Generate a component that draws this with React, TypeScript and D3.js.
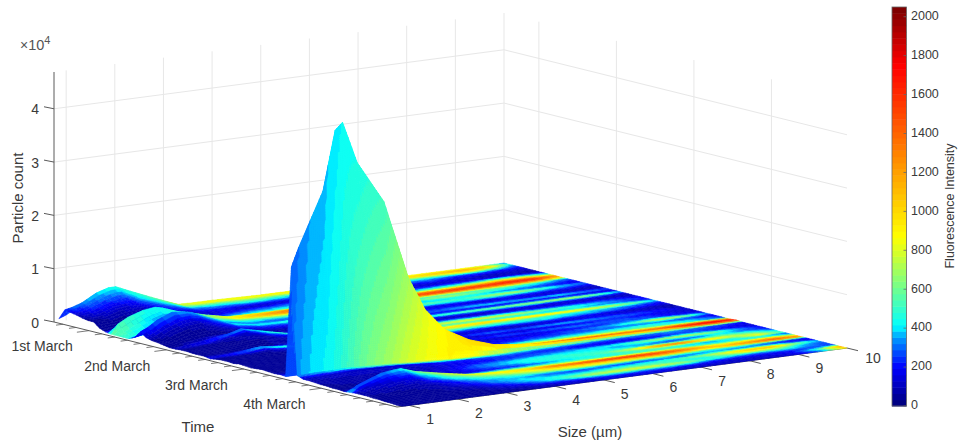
import React, { useMemo } from 'react';
import * as d3 from 'd3';

const WIDTH = 959;
const HEIGHT = 445;
const FONT = '"Liberation Sans", Arial, sans-serif';
const TEXT = '#3a3a3a';

// surface grid: size bins (um) and sampling times (days after 1st March)
const sizeBins = [0.85, 1, 1.2, 1.5, 1.75, 1.9, 2.2, 2.75, 3.25, 3.6, 4, 4.5, 5, 5.5, 6, 6.5, 7, 7.5, 8, 8.5, 9, 9.5, 10];
const timeRows = [
  -0.45, -0.375, -0.3, -0.225, -0.15, -0.075, 0, 0.075, 0.15, 0.225,
  0.3, 0.375, 0.45, 0.525, 0.6, 0.675, 0.75, 0.825, 0.9, 0.975,
  1.05, 1.125, 1.2, 1.275, 1.35, 1.425, 1.5, 1.575, 1.65, 1.725,
  1.8, 1.875, 1.95, 2.025, 2.1, 2.175, 2.25, 2.325, 2.4, 2.475,
  2.55, 2.625, 2.7, 2.775, 2.85, 2.925, 3, 3.075, 3.15, 3.225,
  3.3, 3.375, 3.45, 3.525, 3.6, 3.675, 3.75, 3.825, 3.9, 3.975,
];

// particle count (x10^4) per time row; missing trailing bins are zero
const countRows = [
  [.05, .1, .2, .3, .4, .42, .35, .18, .03, .02, .02, .01],
  [.24, .27, .33, .48, .55, .55, .43, .22, .04, .03, .03, .02, .02, .01],
  [.22, .24, .3, .42, .48, .48, .36, .18, .03, .02, .02, .01, .01],
  [.2, .21, .25, .35, .4, .4, .3, .14, .03, .02, .01],
  [.17, .18, .2, .3, .33, .33, .25, .11, .02, .01],
  [.15, .15, .17, .25, .27, .27, .2, .08, .02, .01],
  [.15, .14, .13, .2, .22, .22, .16, .06, .01],
  [.06, .08, .1, .15, .17, .17, .12, .05, .01],
  [.02, .04, .06, .1, .12, .12, .09, .04, .01],
  [0, .18, .28, .37, .4, .37, .27, .14, .04, .03, .02, .02, .01, .01],
  [0, .05, .14, .28, .34, .33, .25, .12, .03, .02, .02, .01, .01],
  [0, .02, .06, .2, .28, .28, .2, .1, .03, .02, .01, .01],
  [0, .02, .04, .13, .24, .26, .18, .09, .03, .02, .01],
  [.05, .08, .16, .25, .3, .3, .2, .09, .02, .01, .01],
  [.18, .24, .36, .47, .45, .42, .3, .1, .02, .01, .01],
  [.1, .16, .27, .38, .4, .38, .26, .08, .02, .01],
  [.07, .1, .2, .3, .33, .31, .2, .06, .01],
  [.06, .08, .16, .24, .26, .25, .16, .05, .01],
  [.04, .06, .12, .18, .2, .19, .12, .04],
  [.02, .04, .08, .12, .13, .13, .09, .03],
  [.02, .02, .03, .06, .12, .16, .24, .12, .02, .01],
  [.03, .03, .04, .07, .12, .15, .2, .09, .02],
  [.03, .04, .05, .07, .11, .13, .17, .07, .01],
  [.02, .03, .04, .06, .09, .11, .13, .05, .01],
  [.02, .02, .03, .05, .07, .08, .09, .03],
  [.02, .02, .02, .03, .04, .05, .05, .02],
  [0, .01, .02, .04, .09, .1, .06, .02, .01],
  [.02, .02, .02, .03, .05, .06, .04, .01],
  [.03, .03, .03, .03, .04, .04, .03, .01],
  [.03, .03, .02, .02, .02, .02, .01],
  [.02, .03, .03, .02, .02, .01],
  [.04, .03, .02, .02, .01],
  [.03, .03, .02, .02, .01],
  [.02, .02, .02, .01],
  [.03, .03, .02, .01],
  [.04, .03, .03, .02, .01],
  [.03, .03, .02, .01],
  [.02, .02, .02, .01, .01],
  [.03, .02, .02, .02, .02, .02, .02, .01, .01],
  [.02, .02, .02, .02, .02, .02, .02, .02, .02, .02, .01, .01],
  [2.1, 2.45, 2.85, 3.45, 4.56, 4.69, 3.9, 3.1, 1.62, .97, .55, .3, .15, .09, .05, .04, .03, .03, .02, .02, .01, .01, .01],
  [.09, .09, .1, .1, .11, .11, .1, .08, .05, .04, .02, .01],
  [.05, .06, .07, .08, .09, .09, .08, .07, .05, .03, .02, .01],
  [.05, .06, .08, .1, .12, .12, .12, .1, .06, .03, .02, .01],
  [.04, .05, .06, .08, .1, .1, .1, .07, .04, .02, .01],
  [.03, .04, .05, .06, .08, .08, .08, .05, .03, .01],
  [.03, .03, .04, .05, .06, .06, .06, .04, .02],
  [.02, .02, .03, .04, .05, .05, .05, .03, .01],
  [.02, .02, .02, .03, .04, .04, .04, .03, .01],
  [.01, .02, .03, .04, .06, .07, .08, .05, .02],
  [.02, .13, .2, .3, .33, .34, .25, .15, .07, .04, .02, .01, .01],
  [.03, .1, .16, .25, .28, .29, .21, .12, .05, .03, .01],
  [.03, .08, .13, .2, .23, .24, .17, .09, .04, .02, .01],
  [.03, .06, .1, .16, .18, .19, .13, .07, .03, .01],
  [.02, .05, .08, .12, .14, .15, .1, .05, .02, .01],
  [.02, .04, .06, .09, .1, .11, .08, .04, .01],
  [.01, .03, .04, .06, .07, .08, .05, .03, .01],
  [.01, .02, .03, .04, .05, .05, .03, .02],
  [0, .01, .02, .02, .03, .03, .02, .01],
  [],
];

// fluorescence intensity per time row, one value per size bin
const fluorRows = [
  [200, 250, 300, 350, 400, 420, 450, 550, 750, 800, 800, 800, 800, 820, 800, 850, 850, 850, 800, 850, 800, 700, 300],
  [250, 300, 350, 400, 450, 470, 480, 600, 800, 880, 900, 900, 900, 950, 950, 950, 1000, 1000, 1050, 1100, 1200, 1100, 450],
  [180, 220, 270, 320, 350, 380, 420, 430, 500, 520, 550, 600, 550, 500, 450, 500, 500, 550, 600, 700, 900, 600, 250],
  [120, 150, 200, 240, 260, 280, 300, 300, 330, 350, 350, 380, 350, 300, 300, 280, 300, 320, 350, 300, 300, 250, 180],
  [80, 100, 130, 160, 180, 200, 210, 220, 220, 240, 200, 180, 200, 180, 150, 200, 180, 220, 260, 200, 180, 150, 120],
  [50, 60, 80, 100, 110, 120, 120, 130, 150, 170, 130, 120, 150, 130, 100, 120, 100, 130, 150, 120, 100, 100, 90],
  [40, 50, 60, 70, 80, 80, 80, 90, 140, 180, 220, 250, 300, 200, 150, 130, 120, 150, 160, 140, 130, 100, 80],
  [40, 40, 50, 50, 60, 60, 60, 70, 180, 280, 330, 350, 350, 320, 300, 260, 280, 320, 350, 400, 500, 450, 250],
  [40, 40, 40, 50, 50, 50, 60, 80, 300, 400, 450, 500, 520, 550, 600, 500, 550, 600, 700, 900, 1100, 950, 600],
  [550, 550, 500, 450, 420, 430, 480, 600, 850, 950, 1100, 1250, 1350, 1300, 1400, 1450, 1450, 1500, 1550, 1600, 1700, 1650, 1300],
  [550, 520, 470, 420, 430, 450, 480, 650, 900, 1050, 1200, 1350, 1500, 1500, 1550, 1500, 1450, 1500, 1450, 1400, 1400, 1350, 900],
  [500, 480, 420, 360, 360, 380, 400, 500, 600, 650, 700, 650, 600, 550, 520, 580, 500, 520, 500, 600, 550, 450, 300],
  [450, 420, 380, 300, 310, 330, 370, 400, 420, 420, 420, 400, 350, 320, 380, 500, 650, 700, 600, 450, 400, 300, 200],
  [150, 180, 220, 260, 280, 300, 320, 320, 300, 280, 250, 220, 200, 220, 250, 300, 350, 400, 350, 300, 250, 200, 150],
  [220, 250, 300, 340, 360, 370, 400, 420, 450, 450, 500, 480, 420, 480, 600, 650, 550, 500, 700, 800, 600, 400, 300],
  [120, 140, 170, 220, 250, 270, 290, 280, 280, 260, 300, 320, 380, 400, 350, 300, 350, 400, 420, 350, 300, 250, 180],
  [60, 70, 90, 110, 130, 150, 150, 160, 150, 140, 150, 160, 170, 180, 160, 150, 140, 130, 160, 180, 150, 130, 100],
  [40, 50, 60, 70, 80, 90, 90, 100, 90, 90, 100, 120, 140, 150, 180, 220, 250, 200, 180, 150, 130, 120, 100],
  [40, 40, 50, 50, 60, 60, 60, 70, 90, 120, 180, 250, 300, 320, 350, 300, 380, 430, 400, 380, 450, 350, 280],
  [40, 40, 40, 50, 50, 50, 60, 70, 150, 220, 250, 280, 250, 220, 180, 160, 150, 130, 160, 150, 130, 120, 100],
  [100, 120, 150, 200, 280, 320, 380, 520, 600, 600, 580, 550, 550, 520, 520, 560, 620, 680, 720, 750, 800, 650, 380],
  [50, 60, 60, 70, 90, 110, 140, 230, 260, 240, 220, 200, 180, 170, 150, 180, 200, 220, 250, 200, 200, 180, 130],
  [40, 50, 50, 50, 60, 70, 90, 110, 100, 90, 90, 110, 120, 130, 120, 110, 100, 110, 130, 130, 120, 100, 90],
  [40, 40, 50, 50, 50, 60, 60, 70, 120, 200, 280, 300, 320, 350, 370, 350, 320, 280, 240, 220, 250, 200, 150],
  [40, 40, 40, 50, 50, 50, 60, 90, 300, 420, 600, 720, 800, 850, 850, 880, 850, 750, 600, 500, 400, 300, 200],
  [40, 40, 40, 40, 40, 50, 50, 180, 350, 380, 400, 400, 420, 450, 480, 450, 380, 350, 320, 400, 320, 280, 180],
  [150, 180, 220, 300, 400, 420, 500, 620, 700, 750, 800, 850, 950, 1000, 1050, 1100, 1050, 1050, 1000, 950, 800, 650, 400],
  [50, 50, 60, 70, 90, 100, 120, 180, 350, 400, 450, 520, 650, 700, 650, 580, 520, 480, 420, 400, 350, 300, 200],
  [40, 40, 40, 50, 50, 50, 60, 90, 180, 280, 350, 380, 400, 380, 350, 400, 420, 450, 380, 350, 300, 220, 150],
  [40, 40, 40, 40, 40, 40, 50, 50, 70, 90, 110, 140, 170, 200, 180, 150, 200, 220, 180, 150, 120, 100, 80],
  [40, 40, 40, 40, 40, 40, 40, 50, 60, 70, 80, 90, 110, 120, 130, 110, 100, 130, 150, 180, 150, 120, 80],
  [40, 40, 40, 40, 40, 40, 40, 50, 50, 60, 70, 100, 150, 250, 320, 280, 350, 400, 350, 300, 280, 220, 130],
  [40, 40, 40, 40, 40, 40, 40, 50, 50, 60, 70, 90, 110, 120, 130, 120, 140, 160, 200, 220, 200, 150, 120],
  [40, 40, 40, 40, 40, 40, 40, 50, 50, 50, 60, 80, 120, 200, 280, 250, 300, 330, 300, 280, 250, 180, 130],
  [40, 40, 40, 40, 40, 40, 40, 50, 50, 60, 70, 90, 100, 110, 130, 150, 180, 200, 220, 300, 280, 200, 160],
  [50, 50, 50, 50, 50, 50, 50, 50, 60, 70, 80, 100, 130, 170, 220, 200, 250, 300, 380, 550, 850, 700, 300],
  [50, 50, 60, 60, 60, 60, 70, 80, 100, 130, 150, 180, 200, 190, 220, 240, 260, 280, 280, 300, 280, 220, 170],
  [60, 60, 70, 80, 80, 90, 100, 150, 200, 300, 350, 350, 320, 300, 350, 380, 400, 420, 450, 480, 420, 350, 220],
  [80, 90, 100, 120, 130, 140, 180, 300, 420, 480, 550, 600, 620, 650, 680, 650, 680, 650, 620, 550, 500, 400, 280],
  [270, 280, 290, 300, 300, 300, 320, 450, 800, 900, 1050, 1200, 1300, 1350, 1400, 1450, 1500, 1450, 1400, 1450, 1600, 1700, 1500],
  [290, 320, 350, 370, 400, 420, 450, 520, 700, 820, 900, 1000, 1050, 1050, 1100, 1200, 1200, 1250, 1200, 1300, 1550, 1750, 1700],
  [340, 370, 400, 430, 480, 520, 600, 700, 800, 850, 900, 850, 650, 520, 450, 420, 380, 350, 320, 350, 320, 280, 220],
  [120, 130, 150, 170, 180, 180, 180, 200, 220, 240, 260, 280, 280, 260, 240, 220, 200, 220, 250, 280, 260, 220, 150],
  [90, 100, 110, 120, 130, 130, 130, 140, 160, 180, 200, 220, 250, 250, 240, 200, 180, 170, 200, 300, 250, 180, 130],
  [70, 80, 90, 100, 100, 100, 110, 110, 130, 150, 180, 220, 260, 300, 350, 400, 450, 600, 750, 800, 650, 350, 200],
  [60, 70, 70, 80, 90, 90, 90, 100, 130, 180, 280, 350, 420, 440, 430, 400, 350, 380, 300, 250, 400, 300, 200],
  [60, 60, 70, 70, 80, 80, 80, 100, 150, 200, 300, 380, 450, 480, 500, 480, 420, 350, 300, 450, 600, 450, 250],
  [60, 60, 60, 70, 70, 70, 80, 100, 130, 180, 250, 300, 420, 450, 480, 550, 800, 1300, 1500, 1100, 800, 700, 400],
  [50, 60, 60, 60, 70, 70, 70, 90, 120, 160, 200, 220, 280, 380, 430, 450, 480, 550, 400, 350, 500, 900, 500],
  [60, 70, 80, 100, 130, 150, 200, 350, 550, 620, 680, 680, 650, 620, 580, 550, 550, 520, 450, 420, 400, 320, 220],
  [450, 300, 310, 330, 400, 430, 650, 800, 850, 900, 950, 1050, 1350, 1500, 1650, 1700, 1600, 1450, 1200, 900, 1000, 1100, 700],
  [120, 130, 150, 200, 280, 300, 400, 550, 600, 650, 700, 800, 950, 1000, 1050, 1100, 1300, 1200, 1000, 1150, 1350, 1500, 1400],
  [80, 100, 110, 140, 180, 200, 280, 380, 430, 470, 520, 620, 700, 750, 720, 680, 600, 500, 420, 450, 380, 300, 200],
  [60, 70, 80, 100, 120, 130, 160, 250, 350, 350, 350, 300, 280, 270, 250, 230, 280, 260, 350, 300, 300, 200, 150],
  [50, 60, 60, 70, 80, 90, 100, 180, 300, 380, 400, 350, 300, 350, 400, 450, 500, 650, 800, 1100, 1200, 700, 350],
  [50, 50, 50, 60, 60, 70, 80, 120, 220, 320, 400, 450, 500, 550, 600, 550, 480, 400, 650, 850, 700, 400, 250],
  [50, 50, 50, 50, 50, 60, 60, 80, 150, 220, 350, 500, 700, 800, 850, 800, 700, 500, 400, 350, 450, 350, 250],
  [40, 40, 50, 50, 50, 50, 50, 60, 100, 150, 250, 300, 400, 420, 400, 380, 350, 220, 200, 180, 200, 250, 300],
  [40, 40, 40, 40, 40, 40, 50, 50, 60, 80, 120, 150, 180, 200, 200, 180, 150, 140, 130, 140, 180, 500, 1300],
  [40, 40, 40, 40, 40, 40, 40, 50, 50, 60, 80, 100, 110, 120, 120, 110, 100, 100, 100, 110, 130, 300, 900],
];

const sizeTicks = [1, 2, 3, 4, 5, 6, 7, 8, 9, 10];
const dayTicks = [0, 1, 2, 3];
const dayLabels = ['1st March', '2nd March', '3rd March', '4th March'];
const countTicks = [0, 1, 2, 3, 4];
const fluorTicks = [0, 200, 400, 600, 800, 1000, 1200, 1400, 1600, 1800, 2000];

const SIZE_MIN = 0.75;
const SIZE_MAX = 10;
const TIME_MIN = -0.45;
const TIME_MAX = 3.975;
const COUNT_MAX = 4.69;
const FLUOR_MAX = 2050;

// axonometric projection of the box, one scale per screen component
const sizeX = d3.scaleLinear().domain([SIZE_MIN, SIZE_MAX]).range([0, 450]);
const sizeY = d3.scaleLinear().domain([SIZE_MIN, SIZE_MAX]).range([0, -59]);
const timeX = d3.scaleLinear().domain([TIME_MIN, TIME_MAX]).range([0, 343]);
const timeY = d3.scaleLinear().domain([TIME_MIN, TIME_MAX]).range([0, 85]);
const countY = d3.scaleLinear().domain([0, COUNT_MAX]).range([0, 250]);

const project = (s: number, t: number, z: number): [number, number] => [
  54 + sizeX(s) + timeX(t),
  322 + sizeY(s) + timeY(t) - countY(z),
];

const jet = d3
  .scaleLinear<string>()
  .domain([0, 200, 280, 340, 380, 410, 600, 800, 870, 1200, 1400, 1750, 2050])
  .range([
    '#000078', '#0000ff', '#0050ff', '#0090ff', '#00c8ff', '#00ffff', '#6eff91',
    '#dcff23', '#ffff00', '#ffa000', '#ff6400', '#ff0000', '#780000',
  ])
  .clamp(true);

const LEVELS = 64;
const fluorColor = d3
  .scaleQuantize<string>()
  .domain([0, FLUOR_MAX])
  .range(d3.range(LEVELS).map((i) => jet(((i + 0.5) * FLUOR_MAX) / LEVELS)));

const countAt = (r: number, c: number) => countRows[r][c] ?? 0;
const line = d3.line();

type Facet = { d: string; color: string };

// back to front: low times first, large sizes first in every row
function buildFacets(): Facet[] {
  const out: Facet[] = [];
  for (let r = 0; r < timeRows.length - 1; r++) {
    for (let c = sizeBins.length - 2; c >= 0; c--) {
      const z00 = countAt(r, c);
      const z01 = countAt(r, c + 1);
      const z10 = countAt(r + 1, c);
      const z11 = countAt(r + 1, c + 1);
      const f00 = fluorRows[r][c];
      const f01 = fluorRows[r][c + 1];
      const f10 = fluorRows[r + 1][c];
      const f11 = fluorRows[r + 1][c + 1];
      const px = sizeX(sizeBins[c + 1]) - sizeX(sizeBins[c]);
      const rise = countY(Math.max(Math.abs(z00 - z10), Math.abs(z01 - z11)));
      // the tall peak needs finer cells or its colour bands turn into stairs
      const ns = Math.max(1, Math.ceil(px / (rise > 20 ? 2 : 6)));
      const nt = Math.max(2, Math.ceil(rise / (rise > 20 ? 2 : 6)));
      const zAt = (u: number, v: number) =>
        (z00 * (1 - u) + z01 * u) * (1 - v) + (z10 * (1 - u) + z11 * u) * v;
      const fAt = (u: number, v: number) =>
        (f00 * (1 - u) + f01 * u) * (1 - v) + (f10 * (1 - u) + f11 * u) * v;
      const pt = (u: number, v: number) =>
        project(
          sizeBins[c] + (sizeBins[c + 1] - sizeBins[c]) * u,
          timeRows[r] + (timeRows[r + 1] - timeRows[r]) * v,
          zAt(u, v)
        );
      for (let j = 0; j < nt; j++) {
        for (let i = ns - 1; i >= 0; i--) {
          const u0 = i / ns;
          const u1 = (i + 1) / ns;
          const v0 = j / nt;
          const v1 = (j + 1) / nt;
          const d = line([pt(u0, v0), pt(u1, v0), pt(u1, v1), pt(u0, v1)]) + 'Z';
          out.push({ d, color: fluorColor(fAt((u0 + u1) / 2, (v0 + v1) / 2)) });
        }
      }
    }
  }
  return out;
}

const App = () => {
  const facets = useMemo(buildFacets, []);

  const cornerA = project(SIZE_MIN, TIME_MIN, 0);
  const cornerC = project(SIZE_MIN, TIME_MAX, 0);
  const cornerD = project(SIZE_MAX, TIME_MAX, 0);
  const minorDays = d3.range(-2, 24).map((i) => i / 6);

  const barY = d3.scaleLinear().domain([0, FLUOR_MAX]).range([406, 7]);
  const barLevels = d3.range(LEVELS);

  return (
    <svg
      width={WIDTH}
      height={HEIGHT}
      style={{ position: 'absolute', left: 0, top: 0, background: '#fff' }}
      fontFamily={FONT}
    >
      <defs>
        <filter id="soft" x="-5%" y="-5%" width="110%" height="110%">
          <feGaussianBlur stdDeviation="0.45" />
        </filter>
      </defs>

      {/* back walls */}
      <g stroke="#e7e7e7" strokeWidth={1} fill="none">
        {sizeTicks.map((s) => (
          <line
            key={s}
            x1={project(s, TIME_MIN, 0)[0]}
            y1={project(s, TIME_MIN, 0)[1]}
            x2={project(s, TIME_MIN, COUNT_MAX)[0]}
            y2={project(s, TIME_MIN, COUNT_MAX)[1]}
          />
        ))}
        {dayTicks.map((t) => (
          <line
            key={t}
            x1={project(SIZE_MAX, t, 0)[0]}
            y1={project(SIZE_MAX, t, 0)[1]}
            x2={project(SIZE_MAX, t, COUNT_MAX)[0]}
            y2={project(SIZE_MAX, t, COUNT_MAX)[1]}
          />
        ))}
        {countTicks.slice(1).map((z) => (
          <path
            key={z}
            d={
              line([
                project(SIZE_MIN, TIME_MIN, z),
                project(SIZE_MAX, TIME_MIN, z),
                project(SIZE_MAX, TIME_MAX, z),
              ]) as string
            }
          />
        ))}
      </g>

      {/* axes */}
      <g stroke="#5a5a5a" strokeWidth={1} fill="none">
        <line x1={cornerA[0]} y1={cornerA[1]} x2={cornerA[0]} y2={project(SIZE_MIN, TIME_MIN, COUNT_MAX)[1]} />
        <line x1={cornerA[0]} y1={cornerA[1]} x2={cornerC[0]} y2={cornerC[1]} />
        <line x1={cornerC[0]} y1={cornerC[1]} x2={cornerD[0]} y2={cornerD[1]} />
        {countTicks.map((z) => {
          const [x, y] = project(SIZE_MIN, TIME_MIN, z);
          return <line key={z} x1={x} y1={y} x2={x - 10} y2={y - 2} />;
        })}
        {sizeTicks.map((s) => {
          const [x, y] = project(s, TIME_MAX, 0);
          return <line key={s} x1={x} y1={y} x2={x + 11} y2={y + 2.7} />;
        })}
        {minorDays.map((t) => {
          const [x, y] = project(SIZE_MIN, t, 0);
          const len = Number.isInteger(t) ? 12 : 7;
          return <line key={t} x1={x} y1={y} x2={x - len} y2={y + len * 0.13} strokeWidth={0.8} />;
        })}
      </g>

      {/* surface */}
      <g filter="url(#soft)">
        {facets.map((f, i) => (
          <path key={i} d={f.d} fill={f.color} stroke={f.color} strokeWidth={0.5} />
        ))}
      </g>

      {/* tick labels */}
      <g fill={TEXT} fontSize={14}>
        {countTicks.map((z) => {
          const [x, y] = project(SIZE_MIN, TIME_MIN, z);
          return (
            <text key={z} x={x - 15} y={y + 2} textAnchor="end" dominantBaseline="middle">
              {z}
            </text>
          );
        })}
        {sizeTicks.map((s) => {
          const [x, y] = project(s, TIME_MAX, 0);
          return (
            <text key={s} x={x + (s === 10 ? 26 : 21)} y={y + (s === 10 ? 11 : 15)} textAnchor="middle" dominantBaseline="middle">
              {s}
            </text>
          );
        })}
        {dayTicks.map((t) => {
          const [x, y] = project(SIZE_MIN, t, 0);
          return (
            <text key={t} x={x - 16} y={y + 17} textAnchor="end" dominantBaseline="middle">
              {dayLabels[t]}
            </text>
          );
        })}
      </g>

      {/* axis titles */}
      <g fill={TEXT} fontSize={15}>
        <text x={20} y={46} dominantBaseline="middle" fill="#555">
          <tspan fontSize={14}>×</tspan>
          <tspan fontSize={14.5}>10</tspan>
          <tspan fontSize={11} dy={-5}>4</tspan>
        </text>
        <text transform="translate(19,198) rotate(-90)" textAnchor="middle" dominantBaseline="middle">
          Particle count
        </text>
        <text x={198} y={428} textAnchor="middle" dominantBaseline="middle">
          Time
        </text>
        <text x={590} y={433} textAnchor="middle" dominantBaseline="middle">
          Size (µm)
        </text>
      </g>

      {/* colour bar */}
      <g>
        {barLevels.map((i) => {
          const v0 = (i * FLUOR_MAX) / LEVELS;
          const v1 = ((i + 1) * FLUOR_MAX) / LEVELS;
          return (
            <rect
              key={i}
              x={892}
              y={barY(v1)}
              width={14.5}
              height={barY(v0) - barY(v1) + 0.5}
              fill={fluorColor((v0 + v1) / 2)}
            />
          );
        })}
        <rect x={892} y={7} width={14.5} height={399} fill="none" stroke="#666" strokeWidth={0.8} />
        {fluorTicks.map((v) => (
          <g key={v}>
            <line x1={903.5} x2={906.5} y1={barY(v)} y2={barY(v)} stroke="#666" strokeWidth={0.8} />
            <text x={911} y={barY(v)} fill={TEXT} fontSize={12.5} dominantBaseline="middle">
              {v}
            </text>
          </g>
        ))}
        <text
          transform="translate(951,206) rotate(-90)"
          fill={TEXT}
          fontSize={12.5}
          textAnchor="middle"
          dominantBaseline="middle"
        >
          Fluorescence Intensity
        </text>
      </g>
    </svg>
  );
};

export default App;
